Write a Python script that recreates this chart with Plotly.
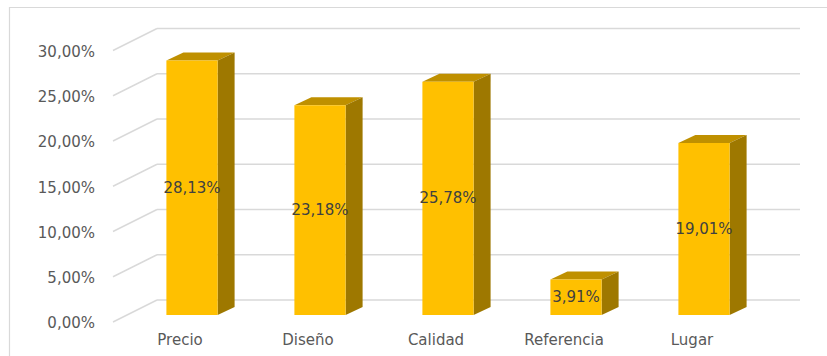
import plotly.graph_objects as go

# ---- data ----
categories = ["Precio", "Diseño", "Calidad", "Referencia", "Lugar"]
values = [28.13, 23.18, 25.78, 3.91, 19.01]
y_ticks = [0, 5, 10, 15, 20, 25, 30]
y_tick_labels = ["0,00%", "5,00%", "10,00%", "15,00%", "20,00%", "25,00%", "30,00%"]
bar_labels = [f"{v:.2f}".replace(".", ",") + "%" for v in values]

# ---- geometry (pixel scale of the pseudo 3D look) ----
W, H = 827, 356
ML, MB = 100, 30
PX_CAT = 128.0      # px per category
PX_PCT = 9.05       # px per percent
X0_PX = 192.0       # pixel of first category centre
Y0_PX = 315.0       # pixel of front zero

def cx(px):   # pixel -> x data
    return (px - X0_PX) / PX_CAT

def cy(py):   # pixel -> y data
    return (Y0_PX - py) / PX_PCT

BAR_W = 0.4
DEPTH_DX = 17 / PX_CAT
DEPTH_DY = 8 / PX_PCT
WALL_DY = 15 / PX_PCT           # back wall zero offset
WALL_X0 = cx(157)
WALL_X1 = cx(800)
DIAG_X0 = cx(113)
DIAG_DY = -7 / PX_PCT

FRONT = "#FFC000"
TOP = "#BF9000"
SIDE = "#9E7800"
GRID = "#D9D9D9"
FONT = "DejaVu Sans"

fig = go.Figure()
fig.add_trace(go.Bar(
    x=list(range(len(categories))), y=values, width=BAR_W,
    marker=dict(color=FRONT, line=dict(width=0)),
    text=bar_labels, textposition="inside", insidetextanchor="middle",
    constraintext="none", cliponaxis=False,
    textangle=0, textfont=dict(family=FONT, size=15, color="#404040"),
    hoverinfo="skip",
))

shapes = []
# walls / gridlines
for v in y_ticks:
    shapes.append(dict(type="line", layer="below", xref="x", yref="y",
                       x0=DIAG_X0, y0=v + DIAG_DY, x1=WALL_X0, y1=v + WALL_DY,
                       line=dict(color=GRID, width=1.5)))
    shapes.append(dict(type="line", layer="below", xref="x", yref="y",
                       x0=WALL_X0, y0=v + WALL_DY, x1=WALL_X1, y1=v + WALL_DY,
                       line=dict(color=GRID, width=1.5)))

# 3D faces
for i, v in enumerate(values):
    xl, xr = i - BAR_W / 2, i + BAR_W / 2
    top = (f"M {xl},{v} L {xl + DEPTH_DX},{v + DEPTH_DY} "
           f"L {xr + DEPTH_DX},{v + DEPTH_DY} L {xr},{v} Z")
    side = (f"M {xr},0 L {xr + DEPTH_DX},{DEPTH_DY} "
            f"L {xr + DEPTH_DX},{v + DEPTH_DY} L {xr},{v} Z")
    shapes.append(dict(type="path", layer="below", xref="x", yref="y", path=top,
                       fillcolor=TOP, line=dict(width=0)))
    shapes.append(dict(type="path", layer="below", xref="x", yref="y", path=side,
                       fillcolor=SIDE, line=dict(width=0)))

# chart border
PW, PH = W - ML, H - MB
shapes.append(dict(type="rect", xref="paper", yref="paper", layer="above",
                   x0=(9.5 - ML) / PW, x1=(W + 5 - ML) / PW,
                   y0=-(MB + 5) / PH, y1=1 - 7.5 / PH,
                   line=dict(color=GRID, width=1.2), fillcolor="rgba(0,0,0,0)"))

fig.update_layout(
    width=W, height=H,
    margin=dict(l=ML, r=0, t=0, b=MB, pad=0),
    paper_bgcolor="white", plot_bgcolor="white",
    showlegend=False, shapes=shapes,
    xaxis=dict(range=[cx(ML), cx(W)], tickvals=list(range(len(categories))),
               ticktext=categories, showgrid=False, zeroline=False,
               showline=False, ticks="", ticklabelshift=-12,
               ticklabelstandoff=3,
               tickfont=dict(family=FONT, size=15, color="#595959")),
    yaxis=dict(range=[cy(H - MB), cy(0)], tickvals=y_ticks, ticktext=y_tick_labels,
               showgrid=False, zeroline=False, showline=False, ticks="",
               ticklabelshift=8, ticklabelstandoff=4,
               tickfont=dict(family=FONT, size=15, color="#595959")),
)

fig.write_html("out.html")
